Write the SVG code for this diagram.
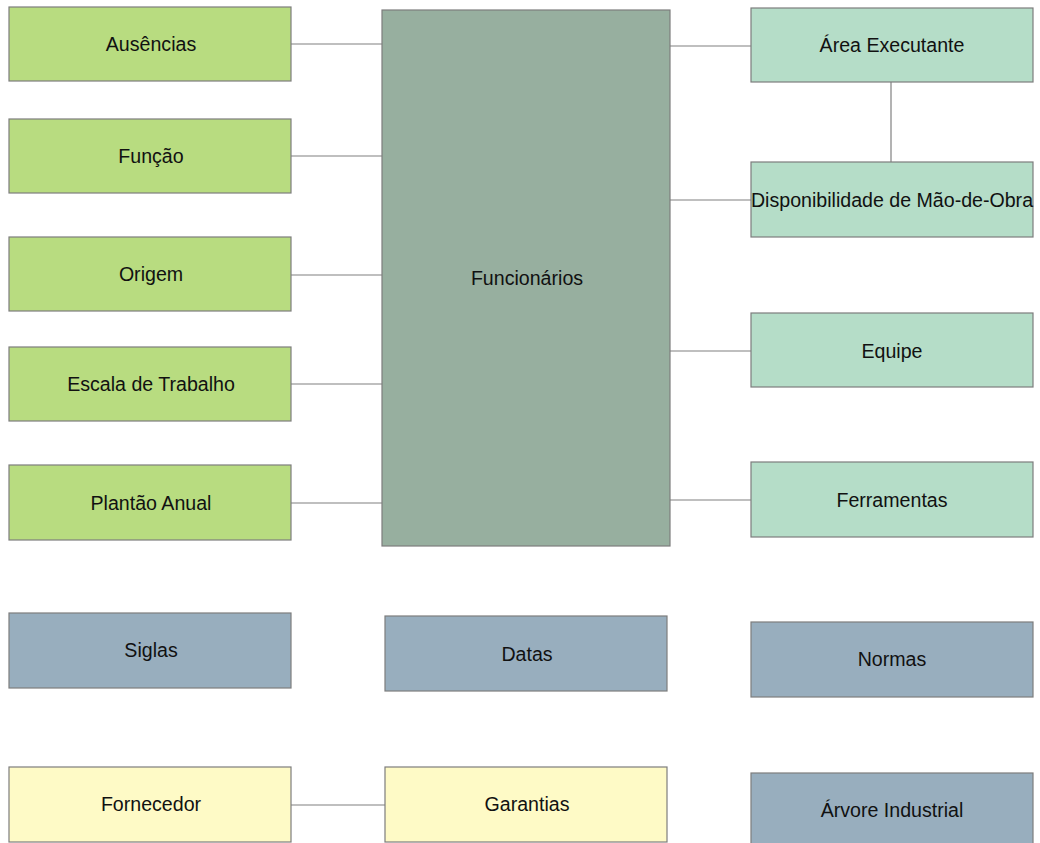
<svg xmlns="http://www.w3.org/2000/svg" width="1040" height="843" viewBox="0 0 1040 843">
  <style>
    .box { stroke: #7d7d7d; stroke-width: 1.2; }
    .lime { fill: #b8dc80; }
    .core { fill: #97af9f; }
    .mint { fill: #b5ddc8; }
    .slate { fill: #98aebe; }
    .cream { fill: #fefac6; }
    .label { font-family: "Liberation Sans", Arial, sans-serif; font-size: 19.6px; fill: #111; text-anchor: middle; dominant-baseline: central; }
    .link { stroke: #808080; stroke-width: 1.2; fill: none; }
  </style>
  <rect width="1040" height="843" fill="#ffffff"/>

  <g id="connectors">
    <line class="link" x1="291" y1="44" x2="382" y2="44"/>
    <line class="link" x1="291" y1="156" x2="382" y2="156"/>
    <line class="link" x1="291" y1="275" x2="382" y2="275"/>
    <line class="link" x1="291" y1="384" x2="382" y2="384"/>
    <line class="link" x1="291" y1="503" x2="382" y2="503"/>
    <line class="link" x1="670" y1="46" x2="751" y2="46"/>
    <line class="link" x1="670" y1="200" x2="751" y2="200"/>
    <line class="link" x1="670" y1="351" x2="751" y2="351"/>
    <line class="link" x1="670" y1="500" x2="751" y2="500"/>
    <line class="link" x1="891" y1="82" x2="891" y2="162"/>
    <line class="link" x1="291" y1="805" x2="385" y2="805"/>
  </g>

  <g id="ausencias"><rect class="box lime" x="9" y="7" width="282" height="74"/><text class="label" x="151" y="44">Ausências</text></g>
  <g id="funcao"><rect class="box lime" x="9" y="119" width="282" height="74"/><text class="label" x="151" y="156">Função</text></g>
  <g id="origem"><rect class="box lime" x="9" y="237" width="282" height="74"/><text class="label" x="151" y="274">Origem</text></g>
  <g id="escala-de-trabalho"><rect class="box lime" x="9" y="347" width="282" height="74"/><text class="label" x="151" y="384">Escala de Trabalho</text></g>
  <g id="plantao-anual"><rect class="box lime" x="9" y="465" width="282" height="75"/><text class="label" x="151" y="503">Plantão Anual</text></g>

  <g id="funcionarios"><rect class="box core" x="382" y="10" width="288" height="536"/><text class="label" x="527" y="278">Funcionários</text></g>

  <g id="area-executante"><rect class="box mint" x="751" y="8" width="282" height="74"/><text class="label" x="892" y="45">Área Executante</text></g>
  <g id="disponibilidade"><rect class="box mint" x="751" y="162" width="282" height="75"/><text class="label" x="892" y="200">Disponibilidade de Mão-de-Obra</text></g>
  <g id="equipe"><rect class="box mint" x="751" y="313" width="282" height="74"/><text class="label" x="892" y="351">Equipe</text></g>
  <g id="ferramentas"><rect class="box mint" x="751" y="462" width="282" height="75"/><text class="label" x="892" y="500">Ferramentas</text></g>

  <g id="siglas"><rect class="box slate" x="9" y="613" width="282" height="75"/><text class="label" x="151" y="650">Siglas</text></g>
  <g id="datas"><rect class="box slate" x="385" y="616" width="282" height="75"/><text class="label" x="527" y="654">Datas</text></g>
  <g id="normas"><rect class="box slate" x="751" y="622" width="282" height="75"/><text class="label" x="892" y="659">Normas</text></g>

  <g id="fornecedor"><rect class="box cream" x="9" y="767" width="282" height="75"/><text class="label" x="151" y="804">Fornecedor</text></g>
  <g id="garantias"><rect class="box cream" x="385" y="767" width="282" height="75"/><text class="label" x="527" y="804">Garantias</text></g>
  <g id="arvore-industrial"><rect class="box slate" x="751" y="773" width="282" height="75"/><text class="label" x="892" y="810">Árvore Industrial</text></g>
</svg>
